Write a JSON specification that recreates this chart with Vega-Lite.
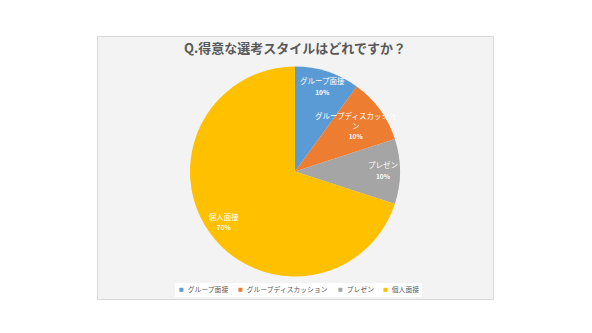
{
  "$schema": "https://vega.github.io/schema/vega-lite/v6.json",
  "width": 396,
  "height": 263,
  "autosize": "none",
  "padding": {"left": 97, "top": 36, "right": 99, "bottom": 34},
  "background": "white",
  "view": {"fill": "#F3F3F3", "stroke": "#D9D9D9"},
  "config": {"font": "Noto Sans CJK JP"},
  "title": {
    "text": "Q.得意な選考スタイルはどれですか？",
    "offset": -20,
    "fontSize": 13,
    "font": "Noto Sans CJK JP",
    "fontWeight": "bold",
    "color": "#595959",
    "anchor": "middle"
  },
  "data": {
    "values": [
      {"no": 1, "category": "グループ面接", "label": "グループ面接", "value": 0.1},
      {"no": 2, "category": "グループディスカッション", "label": "グループディスカッショ\nン", "value": 0.1},
      {"no": 3, "category": "プレゼン", "label": "プレゼン", "value": 0.1},
      {"no": 4, "category": "個人面接", "label": "個人面接", "value": 0.7}
    ]
  },
  "transform": [
    {"stack": "value", "groupby": [], "sort": [{"field": "no", "order": "ascending"}], "as": ["v0", "v1"]},
    {"calculate": "(datum.v0 + datum.v1) / 2", "as": "mid"}
  ],
  "encoding": {
    "color": {
      "field": "category",
      "type": "nominal",
      "sort": null,
      "scale": {
        "domain": ["グループ面接", "グループディスカッション", "プレゼン", "個人面接"],
        "range": ["#5B9BD5", "#ED7D31", "#A5A5A5", "#FFC000"]
      },
      "legend": {
        "title": null,
        "orient": "none",
        "direction": "horizontal",
        "legendX": 78,
        "legendY": 247,
        "fillColor": "white",
        "padding": 3,
        "symbolType": "square",
        "symbolSize": 16,
        "symbolStrokeWidth": 0,
        "labelFontSize": 6.8,
        "labelColor": "#595959",
        "labelOffset": 3,
        "columnPadding": 8,
        "labelFont": "Noto Sans CJK JP"
      }
    }
  },
  "layer": [
    {
      "mark": {"type": "arc", "outerRadius": 105, "yOffset": 4},
      "encoding": {
        "theta": {"field": "v0", "type": "quantitative", "scale": {"domain": [0, 1]}},
        "theta2": {"field": "v1"}
      }
    },
    {
      "transform": [{"filter": "datum.no != 2"}],
      "mark": {"type": "text", "radius": 88, "yOffset": 4, "dy": -5.5, "fontSize": 7.5, "font": "Noto Sans CJK JP"},
      "encoding": {
        "theta": {"field": "mid", "type": "quantitative", "stack": null},
        "text": {"field": "label"},
        "color": {"value": "white"}
      }
    },
    {
      "transform": [{"filter": "datum.no != 2"}],
      "mark": {"type": "text", "radius": 88, "yOffset": 4, "dy": 5, "fontSize": 6.5, "fontWeight": "bold", "font": "Noto Sans CJK JP"},
      "encoding": {
        "theta": {"field": "mid", "type": "quantitative", "stack": null},
        "text": {"field": "value", "format": ".0%"},
        "color": {"value": "white"}
      }
    },
    {
      "transform": [{"filter": "datum.no == 2"}],
      "mark": {"type": "text", "radius": 75, "yOffset": 4, "dy": -10, "fontSize": 7.5, "lineBreak": "\n", "lineHeight": 10, "font": "Noto Sans CJK JP"},
      "encoding": {
        "theta": {"field": "mid", "type": "quantitative", "stack": null},
        "text": {"field": "label"},
        "color": {"value": "white"}
      }
    },
    {
      "transform": [{"filter": "datum.no == 2"}],
      "mark": {"type": "text", "radius": 75, "yOffset": 4, "dy": 10, "fontSize": 6.5, "fontWeight": "bold", "font": "Noto Sans CJK JP"},
      "encoding": {
        "theta": {"field": "mid", "type": "quantitative", "stack": null},
        "text": {"field": "value", "format": ".0%"},
        "color": {"value": "white"}
      }
    }
  ]
}
